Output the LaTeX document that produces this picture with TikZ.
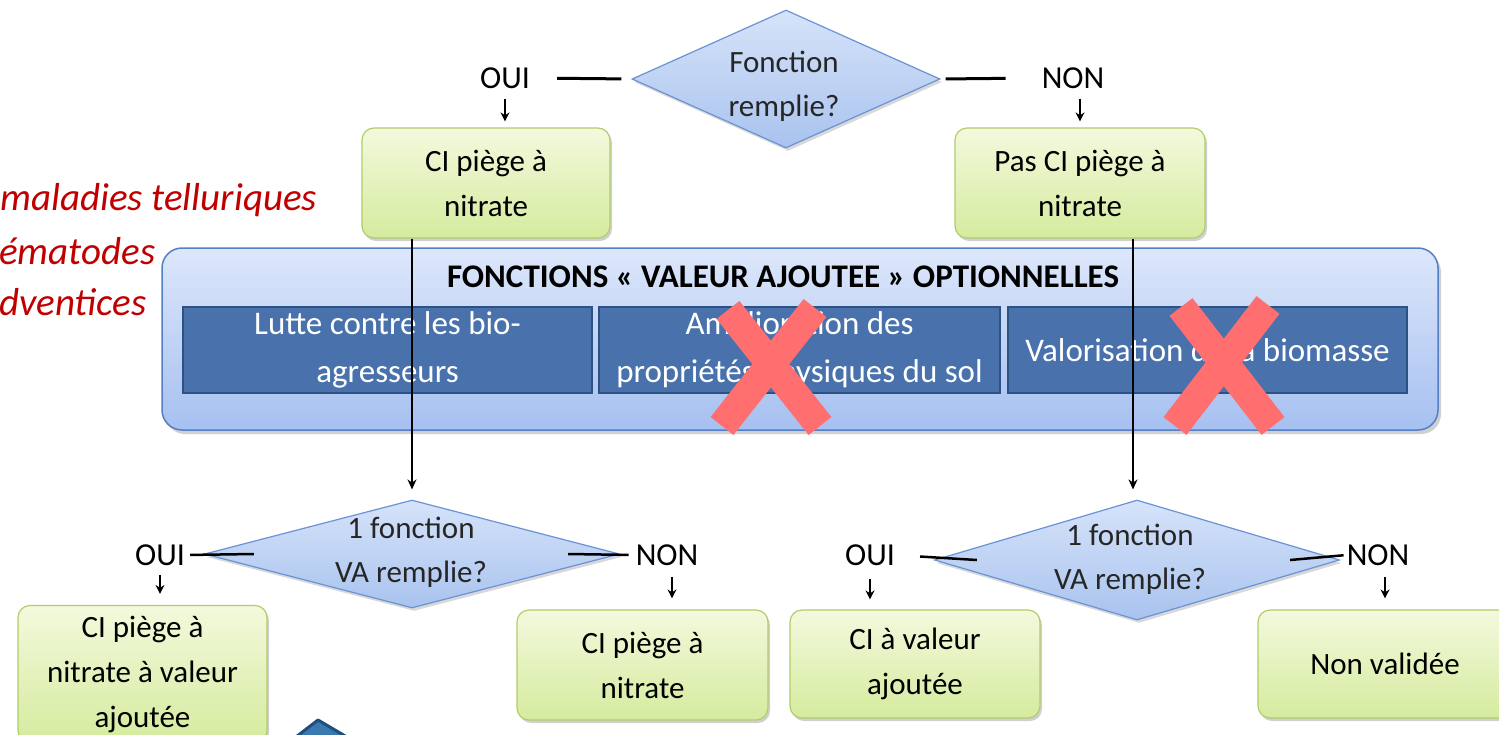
\documentclass[tikz,border=0pt]{standalone}
\usepackage{fontspec}
\setmainfont{Carlito}
\usetikzlibrary{shapes.geometric,arrows.meta,shadows}
\definecolor{gtop}{HTML}{F3F9DD}
\definecolor{gbot}{HTML}{D5EB9E}
\definecolor{gline}{HTML}{B2CC6A}
\definecolor{dtop}{HTML}{D6E3FA}
\definecolor{dbot}{HTML}{A9C3EE}
\definecolor{dline}{HTML}{6A93D6}
\definecolor{ptop}{HTML}{DDE7FB}
\definecolor{pbot}{HTML}{A6C0F0}
\definecolor{pline}{HTML}{557FC4}
\definecolor{ibox}{HTML}{4972AD}
\definecolor{iline}{HTML}{2E5184}
\definecolor{xred}{HTML}{FF6F6F}
\definecolor{tred}{HTML}{C00000}
\definecolor{sblue}{HTML}{3A78B0}
\definecolor{sdark}{HTML}{1E4F7E}
\newcommand\myfs[2]{\fontsize{#1}{#2}\selectfont}
\begin{document}
\begin{tikzpicture}[x=1pt,y=-1pt,
  gbox/.style={draw=gline, line width=1.2pt, rounded corners=12pt, top color=gtop, bottom color=gbot,
    align=center, inner sep=0pt, font=\myfs{31}{45},
    drop shadow={shadow xshift=2pt, shadow yshift=-3pt, opacity=0.3, fill=black!60}},
  dmd/.style={diamond, draw=dline, line width=1.2pt, top color=dtop, bottom color=dbot, inner sep=0pt,
    drop shadow={shadow xshift=2pt, shadow yshift=-3pt, opacity=0.25, fill=black!60}},
  dtext/.style={align=center, inner sep=0pt, font=\myfs{31}{44}, text=black!85},
  lbl/.style={inner sep=0pt, font=\myfs{32}{38}},
  panel/.style={draw=pline, line width=1.5pt, rounded corners=20pt, top color=ptop, bottom color=pbot, inner sep=0pt,
    drop shadow={shadow xshift=3pt, shadow yshift=-4pt, opacity=0.3, fill=black!60}},
  ibx/.style={draw=iline, line width=1.5pt, fill=ibox, text=white, align=center, inner sep=0pt,
    minimum height=86pt, font=\myfs{33}{48}},
  hline/.style={line width=3pt},
  sarr/.style={line width=2.2pt, -{Stealth[length=9pt,width=9pt]}},
  larr/.style={line width=2pt, -{Stealth[length=10pt,width=9pt]}},
  xmark/.style={line width=29pt, xred},
  redtxt/.style={anchor=west, inner sep=0pt, text=tred, font=\itshape\myfs{39}{46}}
]
\useasboundingbox (0,0) rectangle (1499,734);
\clip (0,0) rectangle (1499,734);
\fill[white] (0,0) rectangle (1499,734);

% red side text
\node[redtxt] (r1) at (0,200) {maladies telluriques};
\node[redtxt] (r2) at (-1,251) {ématodes};
\node[redtxt] (r3) at (-1,302) {dventices};

% panel
\node[panel, minimum width=1276pt, minimum height=182pt] (panel) at (800,339) {};
\node[inner sep=0pt, font=\bfseries\myfs{33}{38}] (title) at (783,277) {FONCTIONS «~VALEUR AJOUTEE~» OPTIONNELLES};
\node[ibx, minimum width=409pt] (ib1) at (387.5,350) {Lutte contre les bio-\\agresseurs};
\node[ibx, minimum width=401pt] (ib2) at (799.5,350) {Amélioration des\\propriétés physiques du sol};
\node[ibx, minimum width=399pt] (ib3) at (1207.5,350) {Valorisation de la biomasse};

% top level
\node[dmd, minimum width=308pt, minimum height=138pt] (d1) at (786,79) {};
\node[dtext] (d1t) at (784,86) {Fonction\\remplie?};
\node[lbl] (oui1) at (505,78) {OUI};
\node[lbl] (non1) at (1073,78) {NON};
\node[gbox, minimum width=248pt, minimum height=110pt] (g1) at (486,183) {CI piège à\\nitrate};
\node[gbox, minimum width=250pt, minimum height=110pt] (g2) at (1080,183) {Pas CI piège à\\nitrate};

\draw[hline, shorten <=27pt, shorten >=10pt] (oui1.east) -- (d1.west);
\draw[hline, shorten <=5pt, shorten >=36pt] (d1.east) -- (non1.west);
\draw[sarr, shorten <=10pt, shorten >=6pt] (oui1.south) -- (oui1.south |- g1.north);
\draw[sarr, shorten <=10pt, shorten >=6pt] ([xshift=7pt]non1.south) -- ([xshift=7pt]non1.south |- g2.north);

% second level diamonds
\node[dmd, minimum width=415pt, minimum height=108pt] (d2) at (412,554) {};
\node[dtext] (d2t) at (411,552) {1 fonction\\VA remplie?};
\node[dmd, minimum width=405pt, minimum height=120pt] (d3) at (1137,560) {};
\node[dtext] (d3t) at (1130,559) {1 fonction\\VA remplie?};

% long connectors
\draw[larr, shorten >=10pt] (d2.north |- g1.south) -- (d2.north);
\draw[larr, shorten >=10pt] ([xshift=-4pt]d3.north |- g2.south) -- ([xshift=-4pt]d3.north);

% red crosses
\draw[xmark] (728,310) -- (820,426);
\draw[xmark] (815,308) -- (722,426);
\draw[xmark] (1181,307) -- (1273,426);
\draw[xmark] (1268,305) -- (1175,426);

% bottom labels
\node[lbl] (oui2) at (160,555) {OUI};
\node[lbl] (non2) at (667,555) {NON};
\node[lbl] (oui3) at (870,555) {OUI};
\node[lbl] (non3) at (1378,555) {NON};
\draw[hline, line width=2.5pt, shorten <=5pt] (oui2.east) -- ([xshift=50pt]d2.west);
\draw[hline, line width=2.5pt, shorten >=7pt] ([xshift=-52pt]d2.east) -- (non2.west);
\draw[hline, line width=2.5pt, shorten <=25pt] (oui3.east) -- ([xshift=43pt]d3.west);
\draw[hline, line width=2.5pt, shorten >=3pt] ([xshift=-50pt]d3.east) -- (non3.west);

% bottom boxes
\node[gbox, minimum width=249pt, minimum height=137pt] (g3) at (142.5,674) {CI piège à\\nitrate à valeur\\ajoutée};
\node[gbox, minimum width=251pt, minimum height=110pt] (g4) at (642.5,665) {CI piège à\\nitrate};
\node[gbox, minimum width=250pt, minimum height=108pt] (g5) at (915,664) {CI à valeur\\ajoutée};
\node[gbox, minimum width=254pt, minimum height=108pt] (g6) at (1385,664) {Non validée};

\draw[sarr, shorten <=9pt, shorten >=11pt] (oui2.south) -- (oui2.south |- g3.north);
\draw[sarr, shorten <=11pt, shorten >=11pt] ([xshift=5pt]non2.south) -- ([xshift=5pt]non2.south |- g4.north);
\draw[sarr, shorten <=13pt, shorten >=10pt] (oui3.south) -- (oui3.south |- g5.north);
\draw[sarr, shorten <=11pt, shorten >=11pt] ([xshift=7pt]non3.south) -- ([xshift=7pt]non3.south |- g6.north);

% partial shape at the bottom edge
\filldraw[fill=sblue, draw=sdark, line width=3pt, line join=round] (292,740) -- (318,720) -- (352,740) -- cycle;
\end{tikzpicture}
\end{document}
